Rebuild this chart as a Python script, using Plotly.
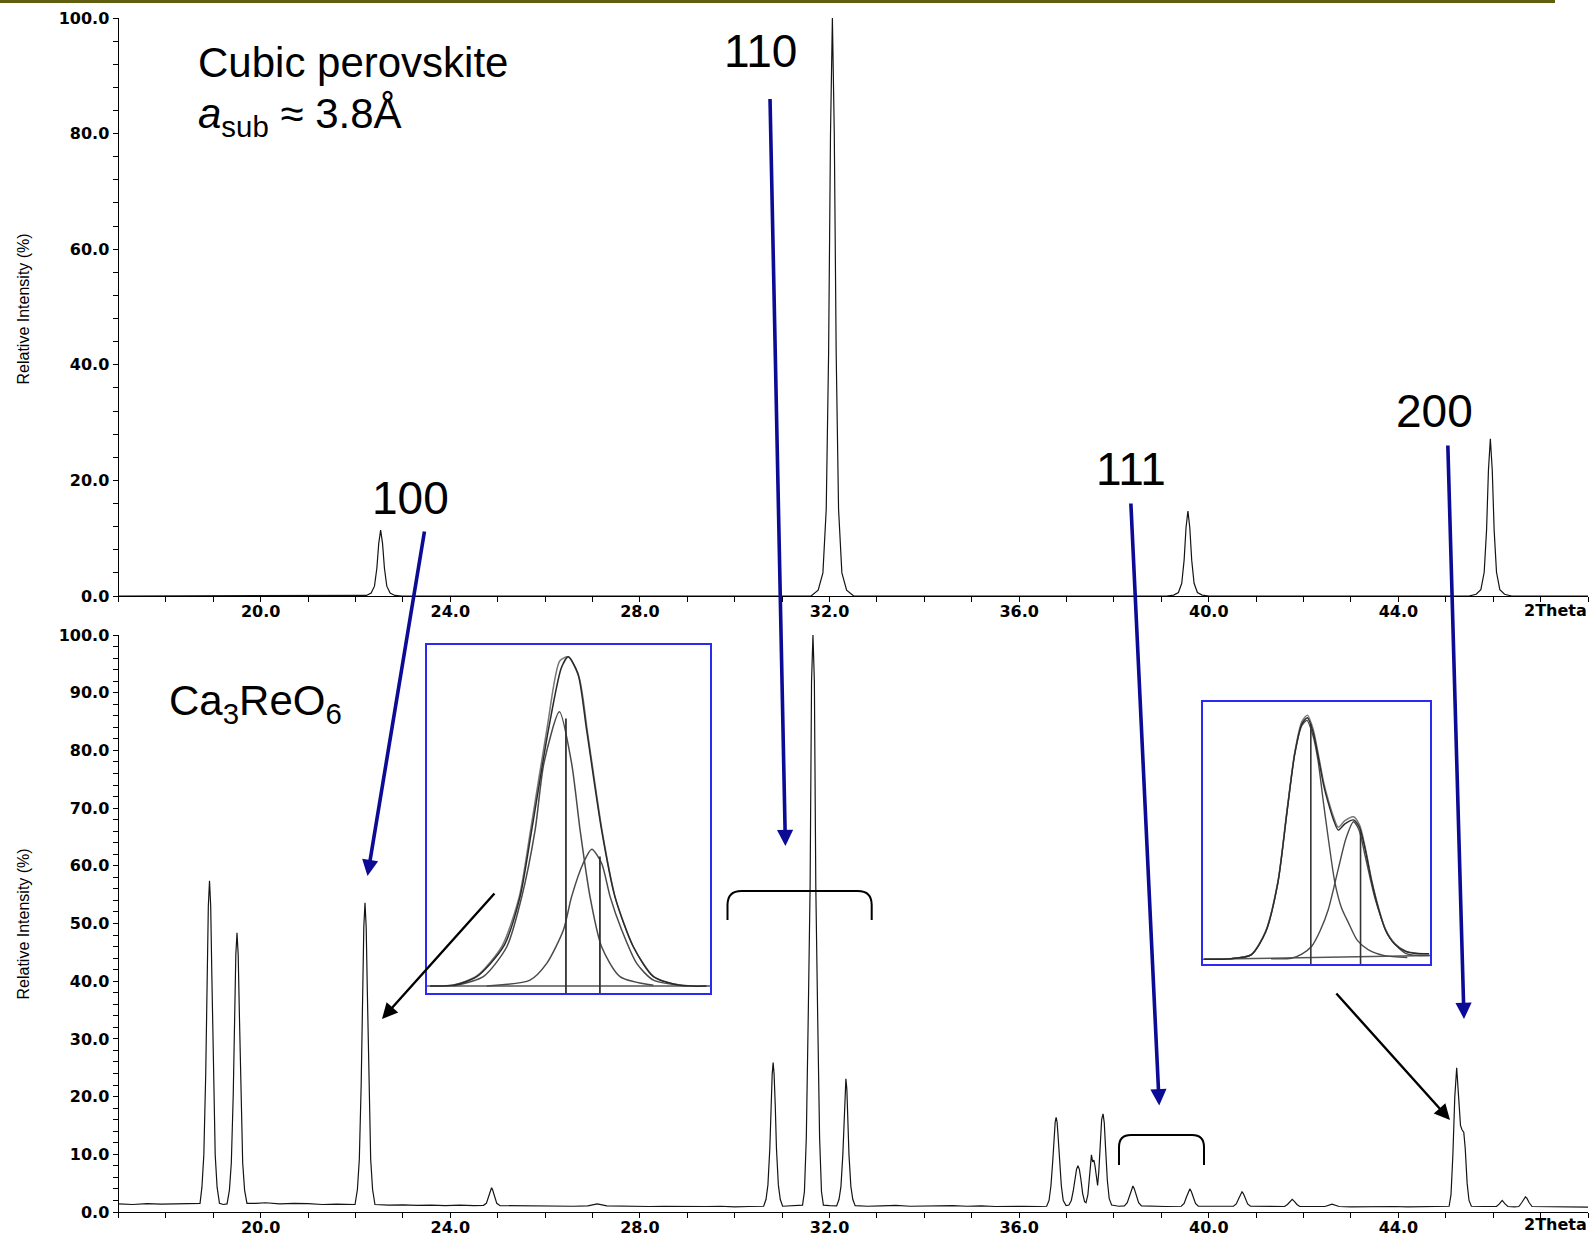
import plotly.graph_objects as go

W, H = 1593, 1236

# ---------------- data ----------------
top_two_theta = [17.0, 22.08, 22.23, 22.33, 22.40, 22.45, 22.49, 22.53, 22.57, 22.61, 22.66, 22.73, 22.83, 22.98,
                 31.61, 31.76, 31.86, 31.93, 31.98, 32.02, 32.06, 32.10, 32.14, 32.19, 32.26, 32.36, 32.51,
                 39.11, 39.26, 39.36, 39.43, 39.48, 39.52, 39.56, 39.60, 39.64, 39.69, 39.76, 39.86, 40.01,
                 45.49, 45.64, 45.74, 45.81, 45.86, 45.90, 45.94, 45.98, 46.02, 46.07, 46.14, 46.24, 46.39, 48.0]
top_intensity = [0, 0, 0.1, 0.5, 1.7, 4.8, 9.1, 11.4, 9.1, 4.8, 1.7, 0.5, 0.1, 0,
                 0, 1.0, 4.0, 15.0, 42.0, 80.0, 100.0, 80.0, 42.0, 15.0, 4.0, 1.0, 0,
                 0, 0.15, 0.6, 2.2, 6.2, 11.8, 14.7, 11.8, 6.2, 2.2, 0.6, 0.15, 0,
                 0, 0.3, 1.1, 4.1, 11.4, 21.8, 27.2, 21.8, 11.4, 4.1, 1.1, 0.3, 0, 0]

bottom_two_theta = [17.0, 17.3, 17.6, 17.9, 18.2, 18.5, 18.72,
                    18.76, 18.80, 18.84, 18.87, 18.895, 18.92, 18.945, 18.97, 19.00, 19.04, 19.08, 19.13,
                    19.21,
                    19.29, 19.34, 19.38, 19.42, 19.45, 19.475, 19.50, 19.525, 19.55, 19.58, 19.62, 19.66, 19.71,
                    19.9, 20.1, 20.4, 20.7, 21.0, 21.3, 21.6, 21.85,
                    21.99, 22.04, 22.08, 22.12, 22.15, 22.175, 22.20, 22.225, 22.25, 22.28, 22.32, 22.36, 22.41,
                    22.7, 23.0, 23.3, 23.6, 23.9, 24.2, 24.5,
                    24.70, 24.76, 24.81, 24.85, 24.87, 24.89, 24.93, 24.98, 25.05,
                    25.4, 25.7, 26.0, 26.3, 26.6, 26.9, 27.1, 27.3, 27.6, 27.9, 28.2, 28.5, 28.8, 29.1, 29.4,
                    29.7, 30.0, 30.3, 30.55,
                    30.61, 30.66, 30.70, 30.74, 30.765, 30.79, 30.81, 30.83, 30.855, 30.88, 30.92, 30.96, 31.01,
                    31.2,
                    31.43, 31.47, 31.51, 31.55, 31.59, 31.62, 31.65, 31.68, 31.71, 31.75, 31.79, 31.83, 31.87,
                    32.0,
                    32.15, 32.20, 32.24, 32.28, 32.305, 32.325, 32.345, 32.365, 32.385, 32.41, 32.45, 32.49, 32.54,
                    32.8, 33.1, 33.4, 33.7, 34.0, 34.3, 34.6, 34.9, 35.2, 35.5, 35.8, 36.1, 36.4,
                    36.58, 36.63, 36.67, 36.71, 36.74, 36.76, 36.78, 36.80, 36.82, 36.85, 36.89, 36.93, 36.99, 37.05,
                    37.10, 37.14, 37.18, 37.21, 37.24, 37.27, 37.30, 37.34, 37.38, 37.41,
                    37.45, 37.48, 37.51, 37.525, 37.55, 37.575, 37.60, 37.63, 37.655, 37.68, 37.71, 37.74, 37.77,
                    37.795, 37.82, 37.86, 37.90, 37.95,
                    38.1,
                    38.22, 38.28, 38.33, 38.37, 38.40, 38.43, 38.47, 38.52, 38.58,
                    38.8, 39.1,
                    39.42, 39.48, 39.53, 39.57, 39.60, 39.63, 39.67, 39.72, 39.78,
                    40.0, 40.3,
                    40.52, 40.58, 40.63, 40.67, 40.70, 40.73, 40.77, 40.82, 40.88,
                    41.1, 41.4,
                    41.60, 41.66, 41.71, 41.76, 41.81, 41.86, 41.92,
                    42.2, 42.45, 42.6, 42.75, 43.0, 43.3, 43.6, 43.9, 44.2, 44.5, 44.8,
                    45.07, 45.11, 45.15, 45.19, 45.23, 45.27, 45.31, 45.34, 45.38, 45.41, 45.45, 45.49, 45.54,
                    45.8,
                    46.07, 46.13, 46.19, 46.25, 46.31,
                    46.45,
                    46.54, 46.60, 46.65, 46.68, 46.71, 46.76, 46.82,
                    47.1, 47.4, 47.7, 48.0]
bottom_intensity = [1.4, 1.3, 1.45, 1.35, 1.4, 1.5, 1.5,
                    4.3, 9.9, 23.9, 40.7, 53.0, 57.4, 53.0, 40.7, 23.9, 9.9, 4.3, 1.5,
                    1.3,
                    1.4, 3.8, 8.5, 20.2, 34.3, 44.6, 48.4, 44.6, 34.3, 20.2, 8.5, 3.8, 1.5,
                    1.5, 1.6, 1.4, 1.5, 1.45, 1.3, 1.35, 1.3,
                    1.3, 3.9, 9.1, 22.2, 37.9, 49.4, 53.6, 49.4, 37.9, 22.2, 9.1, 3.9, 1.3,
                    1.2, 1.25, 1.15, 1.2, 1.1, 1.2, 1.1,
                    1.15, 1.5, 2.6, 3.8, 4.2, 3.9, 2.6, 1.5, 1.1,
                    1.05, 1.1, 1.0, 1.05, 1.0, 1.05, 1.4, 1.05, 1.0, 1.05, 0.95, 1.0, 0.95, 1.0, 0.95,
                    1.0, 0.9, 0.95, 1.0,
                    1.0, 2.2, 4.7, 11.0, 18.4, 23.9, 25.9, 23.9, 18.4, 11.0, 4.7, 2.2, 1.0,
                    1.1,
                    1.2, 3.5, 12.9, 33.7, 56.4, 92.0, 100.0, 92.0, 56.4, 33.7, 12.9, 3.5, 1.2,
                    1.1,
                    1.05, 2.2, 4.4, 9.9, 16.5, 21.3, 23.1, 21.3, 16.5, 9.9, 4.4, 2.2, 1.1,
                    1.0, 1.05, 1.15, 1.0, 1.05, 1.0, 1.1, 1.0, 1.05, 0.95, 1.0, 1.0, 0.95,
                    1.0, 2.0, 4.5, 9.0, 13.3, 15.6, 16.4, 15.6, 13.3, 9.0, 4.5, 2.0, 1.1, 1.2,
                    2.0, 3.6, 5.8, 7.4, 8.0, 7.4, 5.8, 3.2, 1.8, 1.6,
                    3.0, 6.5, 9.4, 9.9, 8.7, 9.0, 8.0, 5.5, 4.6, 7.0, 12.0, 16.0, 17.0,
                    15.5, 11.5, 5.5, 2.3, 1.2,
                    1.0,
                    1.05, 1.6, 2.8, 4.0, 4.5, 4.0, 2.8, 1.6, 1.05,
                    1.0, 0.95,
                    1.0, 1.5, 2.6, 3.6, 4.0, 3.6, 2.6, 1.5, 1.0,
                    0.95, 1.0,
                    1.0, 1.4, 2.3, 3.2, 3.5, 3.2, 2.3, 1.4, 1.0,
                    0.95, 1.0,
                    0.95, 1.3, 1.8, 2.2, 1.8, 1.3, 0.95,
                    0.9, 0.95, 1.35, 0.95, 0.9, 0.95, 0.9, 0.95, 0.9, 0.95, 0.9,
                    1.0, 3.0, 10.0, 20.0, 25.0, 20.0, 15.0, 14.3, 13.8, 11.0, 5.0, 2.0, 1.0,
                    0.95,
                    0.95, 1.4, 2.0, 1.4, 0.95,
                    0.9,
                    0.95, 1.6, 2.4, 2.6, 2.4, 1.6, 0.95,
                    0.9, 0.85, 0.9, 0.85]
assert len(top_two_theta) == len(top_intensity)
assert len(bottom_two_theta) == len(bottom_intensity), (len(bottom_two_theta), len(bottom_intensity))

x_tick_values = [20, 24, 28, 32, 36, 40, 44]
x_tick_labels = ["20.0", "24.0", "28.0", "32.0", "36.0", "40.0", "44.0"]
top_y_tick_values = [0, 20, 40, 60, 80, 100]
top_y_tick_labels = ["0.0", "20.0", "40.0", "60.0", "80.0", "100.0"]
bottom_y_tick_values = [0, 10, 20, 30, 40, 50, 60, 70, 80, 90, 100]
bottom_y_tick_labels = ["0.0", "10.0", "20.0", "30.0", "40.0", "50.0", "60.0", "70.0", "80.0", "90.0", "100.0"]

# inset 1 (peak fit, two components)
inset1_total_calc_x = [1.1, 9.3, 17.6, 27.0, 32.9, 37.0, 42.9, 47.5, 49.9, 53.3, 56.4, 61.7, 66.4, 72.9, 80.0, 89.4, 98.8]
inset1_total_calc_y = [2.0, 2.2, 4.7, 13.3, 27.7, 46.8, 75.6, 93.5, 96.6, 91.9, 75.6, 46.8, 27.7, 13.3, 4.7, 2.2, 2.0]
inset1_total_obs_x = [1.1, 9.3, 17.6, 26.5, 32.6, 36.6, 42.5, 46.9, 49.9, 53.8, 56.8, 62.0, 66.6, 73.1, 80.3, 89.4, 98.8]
inset1_total_obs_y = [2.0, 2.3, 4.9, 13.5, 27.7, 46.8, 76.5, 95.4, 96.6, 90.5, 74.5, 46.0, 27.2, 13.0, 4.6, 2.3, 2.0]
inset1_comp1_x = [9.3, 19.9, 28.2, 33.5, 38.2, 41.3, 46.8, 51.1, 54.1, 57.6, 61.7, 68.2, 80.0]
inset1_comp1_y = [2.0, 4.7, 13.3, 27.7, 46.8, 66.0, 80.8, 66.0, 46.8, 27.7, 13.3, 4.7, 2.2]
inset1_comp2_x = [21.1, 36.4, 42.3, 48.2, 51.1, 55.2, 58.2, 61.7, 64.7, 68.8, 74.1, 80.0, 91.8]
inset1_comp2_y = [2.0, 3.7, 8.5, 18.1, 27.7, 37.3, 41.3, 37.3, 27.7, 18.1, 8.5, 3.7, 2.0]
inset1_base_x = [0, 100]
inset1_base_y = [2.0, 2.0]
inset1_stick_x = [49.1, 61.1]
inset1_stick_top = [78.9, 39.2]

# inset 2
inset2_total_x = [0.5, 12, 21.2, 27.5, 33.0, 37.0, 40.4, 43.5, 46.0, 48.5, 51.0, 53.2, 55.2, 57.5, 59.6, 62.5, 66.3,
                  69.0, 71.4, 74.4, 77.5, 80.3, 84.5, 89.2, 94, 99.6]
inset2_total_calc_y = [1.8, 2.0, 3.5, 12.0, 31.1, 58.0, 80.1, 91.5, 94.0, 88.5, 78.0, 68.0, 61.4, 55.0, 51.1, 53.5,
                       55.0, 52.0, 44.0, 31.1, 20.5, 13.1, 7.5, 4.8, 4.0, 3.9]
inset2_total_obs_y = [1.8, 2.0, 3.6, 12.4, 31.6, 58.8, 80.8, 92.4, 95.0, 89.8, 79.2, 69.2, 62.6, 56.2, 52.2, 54.7,
                      56.2, 53.0, 44.8, 31.7, 21.0, 13.5, 7.8, 5.0, 4.1, 3.9]
inset2_comp1_x = [0.5, 12, 21.2, 27.5, 33.0, 37.0, 40.4, 43.5, 45.8, 48.5, 50.7, 53.0, 55.2, 58.1, 61.0, 64.1, 68.0,
                  72.9, 80, 90]
inset2_comp1_y = [1.8, 2.0, 3.5, 12.0, 31.1, 58.0, 80.1, 91.0, 93.0, 87.0, 77.5, 62.0, 47.9, 31.1, 21.5, 15.7, 9.0,
                  5.4, 3.2, 2.5]
inset2_comp2_x = [30.0, 38.9, 43.5, 47.8, 51.5, 55.2, 59.6, 63.0, 66.3, 68.8, 71.4, 75.9, 81.8, 89.2, 99.6]
inset2_comp2_y = [2.0, 2.2, 3.8, 6.7, 12.5, 20.8, 36.3, 48.0, 54.3, 51.0, 41.4, 24.7, 10.6, 4.1, 3.2]
inset2_base_x = [0, 100]
inset2_base_y = [1.8, 3.2]
inset2_stick_x = [47.5, 69.4]
inset2_stick_top = [91.6, 50.5]

hkl_labels = ["100", "110", "111", "200"]

# ---------------- helpers (pixel -> paper) ----------------
def px(x):
    return x / W


def py(y):
    return 1 - y / H


LINE = "#141414"
BLUE_ARROW = "#0b0b96"
BOX_BLUE = "#2a2af0"
TEXT_FONT = "Liberation Sans, Arial, sans-serif"
TICK_FONT = dict(family="DejaVu Sans, Verdana, sans-serif", size=16, color="black", weight="bold")

fig = go.Figure()

fig.add_trace(go.Scatter(x=top_two_theta, y=top_intensity, mode="lines",
                         line=dict(color=LINE, width=1.2), xaxis="x", yaxis="y", hoverinfo="skip"))
fig.add_trace(go.Scatter(x=bottom_two_theta, y=bottom_intensity, mode="lines",
                         line=dict(color=LINE, width=1.2), xaxis="x2", yaxis="y2", hoverinfo="skip"))


def inset_trace(x, y, ax, color, width, smooth=True):
    line = dict(color=color, width=width)
    if smooth:
        line.update(shape="spline", smoothing=0.7)
    fig.add_trace(go.Scatter(x=x, y=y, mode="lines", line=line,
                             xaxis="x" + ax, yaxis="y" + ax, hoverinfo="skip"))


inset_trace(inset1_base_x, inset1_base_y, "3", "#555555", 1.5, False)
inset_trace(inset1_comp1_x, inset1_comp1_y, "3", "#4a4a4a", 1.5)
inset_trace(inset1_comp2_x, inset1_comp2_y, "3", "#4a4a4a", 1.5)
inset_trace(inset1_total_obs_x, inset1_total_obs_y, "3", "#777777", 1.5)
inset_trace(inset1_total_calc_x, inset1_total_calc_y, "3", "#2a2a2a", 1.5)
for sx, st in zip(inset1_stick_x, inset1_stick_top):
    inset_trace([sx, sx], [0, st], "3", "#333333", 1.8, False)

inset_trace(inset2_base_x, inset2_base_y, "4", "#555555", 1.5, False)
inset_trace(inset2_comp1_x, inset2_comp1_y, "4", "#4a4a4a", 1.4)
inset_trace(inset2_comp2_x, inset2_comp2_y, "4", "#4a4a4a", 1.4)
inset_trace(inset2_total_x, inset2_total_obs_y, "4", "#777777", 1.4)
inset_trace(inset2_total_x, inset2_total_calc_y, "4", "#2a2a2a", 1.4)
for sx, st in zip(inset2_stick_x, inset2_stick_top):
    inset_trace([sx, sx], [0, st], "4", "#333333", 1.6, False)

XDOM = [px(118.5), px(1588)]

xaxis_common = dict(range=[17, 48], showline=True, linecolor="black", linewidth=1, automargin=False,
                    ticks="outside", ticklen=5, tickcolor="black", tickwidth=1,
                    tickmode="array", tickvals=x_tick_values, ticktext=x_tick_labels,
                    tickfont=TICK_FONT, ticklabelstandoff=-4, showgrid=False, zeroline=False,
                    minor=dict(tickmode="linear", tick0=0, dtick=1, ticks="outside", ticklen=5,
                               tickcolor="black", tickwidth=1, showgrid=False))

inset_common = dict(range=[0, 100], showline=True, mirror=True, linecolor=BOX_BLUE, linewidth=2,
                    showticklabels=False, ticks="", showgrid=False, zeroline=False, automargin=False)

fig.update_layout(
    width=W, height=H,
    margin=dict(l=0, r=0, t=0, b=0, pad=0, autoexpand=False),
    paper_bgcolor="white", plot_bgcolor="white",
    showlegend=False,
    xaxis=dict(domain=XDOM, anchor="y", **xaxis_common),
    yaxis=dict(domain=[py(596), py(18)], anchor="x", range=[0, 100], showline=True, linecolor="black",
               linewidth=1, ticks="outside", ticklen=5, tickcolor="black", tickmode="array",
               tickvals=top_y_tick_values, ticktext=top_y_tick_labels, tickfont=TICK_FONT,
               showgrid=False, zeroline=False, automargin=False,
               minor=dict(tickmode="linear", tick0=0, dtick=4, ticks="outside", ticklen=5,
                          tickcolor="black", showgrid=False)),
    xaxis2=dict(domain=XDOM, anchor="y2", **xaxis_common),
    yaxis2=dict(domain=[py(1212), py(635)], anchor="x2", range=[0, 100], showline=True, linecolor="black",
                linewidth=1, ticks="outside", ticklen=5, tickcolor="black", tickmode="array",
                tickvals=bottom_y_tick_values, ticktext=bottom_y_tick_labels, tickfont=TICK_FONT,
                showgrid=False, zeroline=False, automargin=False,
                minor=dict(tickmode="linear", tick0=0, dtick=2, ticks="outside", ticklen=5,
                           tickcolor="black", showgrid=False)),
    xaxis3=dict(domain=[px(427), px(710)], anchor="y3", **inset_common),
    yaxis3=dict(domain=[py(993), py(645)], anchor="x3", **inset_common),
    xaxis4=dict(domain=[px(1203), px(1430)], anchor="y4", **inset_common),
    yaxis4=dict(domain=[py(964), py(702)], anchor="x4", **inset_common),
)

annotations = []


def text_ann(text, x, y, size, xanchor="center", yanchor="middle", angle=0, family=TEXT_FONT, weight="normal"):
    annotations.append(dict(text=text, x=px(x), y=py(y), xref="paper", yref="paper", showarrow=False,
                            xanchor=xanchor, yanchor=yanchor, textangle=angle,
                            font=dict(family=family, size=size, color="black", weight=weight)))


def arrow_ann(tail, tip, color, width, size):
    annotations.append(dict(text="", x=px(tip[0]), y=py(tip[1]), xref="paper", yref="paper",
                            ax=tail[0] - tip[0], ay=tail[1] - tip[1], axref="pixel", ayref="pixel",
                            showarrow=True, arrowhead=2, arrowsize=size, arrowwidth=width,
                            arrowcolor=color, standoff=0, startstandoff=0))


text_ann("Cubic perovskite", 196, 63, 42, xanchor="left")
text_ann("<i>a</i><sub>sub</sub> \u2248 3.8\u00c5", 196, 116, 42, xanchor="left")
text_ann("Ca<sub>3</sub>ReO<sub>6</sub>", 167, 703, 42, xanchor="left")

label_pos = [(410.5, 498), (760, 51), (1131, 469), (1434.6, 410.5)]
for lab, (lx, ly) in zip(hkl_labels, label_pos):
    text_ann(lab, lx, ly, 46)

text_ann("Relative Intensity (%)", 22.5, 309, 16, angle=-90)
text_ann("Relative Intensity (%)", 22.5, 924, 16, angle=-90)
text_ann("2Theta", 1589, 610, 16, xanchor="right", family=TICK_FONT["family"], weight="bold")
text_ann("2Theta", 1589, 1224, 16, xanchor="right", family=TICK_FONT["family"], weight="bold")

blue_arrows = [((424.7, 530), (367.5, 876)),
               ((770, 97.5), (785.4, 846)),
               ((1130.8, 502), (1159.2, 1105.4)),
               ((1447.8, 444), (1464, 1019))]
for tail, tip in blue_arrows:
    arrow_ann(tail, tip, BLUE_ARROW, 3.6, 0.9)

black_arrows = [((495.8, 892), (382, 1019)),
                ((1335, 992), (1450, 1120))]
for tail, tip in black_arrows:
    arrow_ann(tail, tip, "black", 2.4, 1.3)

fig.update_layout(annotations=annotations)


def bracket_path(x0, x1, yt, yb, r):
    return (f"M {px(x0)},{py(yb)} L {px(x0)},{py(yt + r)} Q {px(x0)},{py(yt)} {px(x0 + r)},{py(yt)} "
            f"L {px(x1 - r)},{py(yt)} Q {px(x1)},{py(yt)} {px(x1)},{py(yt + r)} L {px(x1)},{py(yb)}")


shapes = [
    dict(type="rect", xref="paper", yref="paper", x0=0, x1=px(1555), y0=py(3), y1=1,
         fillcolor="#5e5e0e", line=dict(width=0)),
    dict(type="path", xref="paper", yref="paper", path=bracket_path(727.5, 871.7, 891, 920, 14),
         line=dict(color="black", width=2)),
    dict(type="path", xref="paper", yref="paper", path=bracket_path(1119, 1204, 1135, 1165, 12),
         line=dict(color="black", width=2)),
]
fig.update_layout(shapes=shapes)

fig.write_html("out.html")
